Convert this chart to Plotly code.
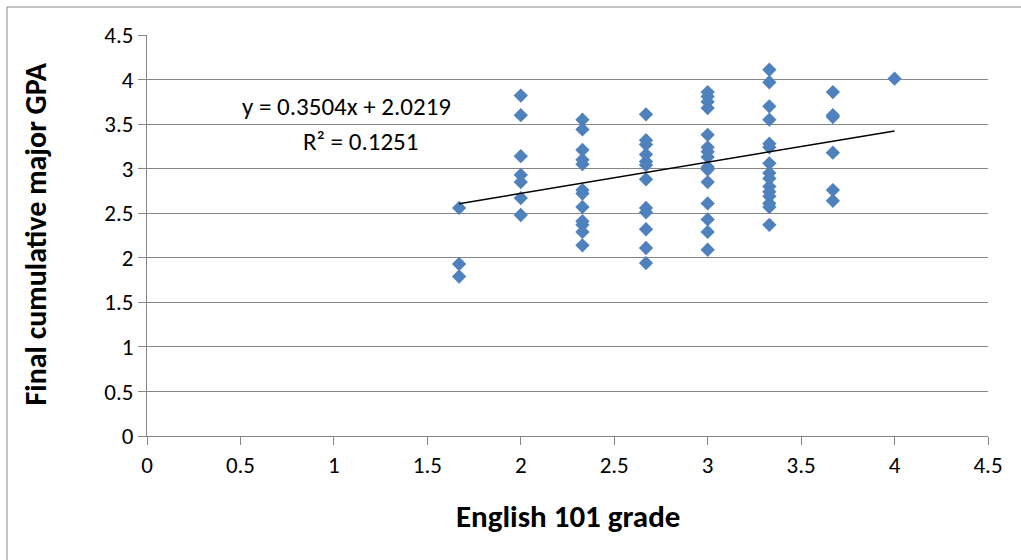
import plotly.graph_objects as go

# English 101 grade (x) and final cumulative major GPA (y)
grade_167 = [2.56, 1.93, 1.79]
grade_200 = [3.82, 3.60, 3.14, 2.93, 2.85, 2.67, 2.48]
grade_233 = [3.55, 3.44, 3.21, 3.10, 3.05, 2.76, 2.72, 2.57, 2.41, 2.37, 2.29, 2.14]
grade_267 = [3.61, 3.32, 3.27, 3.16, 3.08, 3.04, 2.88, 2.56, 2.51, 2.32, 2.11, 1.94]
grade_300 = [3.86, 3.81, 3.75, 3.68, 3.38, 3.24, 3.19, 3.13, 3.02, 2.99, 2.85, 2.61, 2.43, 2.29, 2.09]
grade_333 = [4.11, 3.97, 3.70, 3.55, 3.28, 3.24, 3.06, 2.95, 2.89, 2.80, 2.74, 2.69, 2.61, 2.57, 2.37]
grade_367 = [3.86, 3.60, 3.58, 3.18, 2.76, 2.64]
grade_400 = [4.01]

grade_levels = [1.67, 2.0, 2.33, 2.67, 3.0, 3.33, 3.67, 4.0]
gpa_groups = [grade_167, grade_200, grade_233, grade_267, grade_300, grade_333, grade_367, grade_400]

x_vals, y_vals = [], []
for g, ys in zip(grade_levels, gpa_groups):
    x_vals += [g] * len(ys)
    y_vals += ys

slope = 0.3504
intercept = 2.0219
r2 = 0.1251
trend_x = [min(x_vals), max(x_vals)]
trend_y = [slope * v + intercept for v in trend_x]

tick_vals = [0, 0.5, 1, 1.5, 2, 2.5, 3, 3.5, 4, 4.5]
tick_text = ["0", "0.5", "1", "1.5", "2", "2.5", "3", "3.5", "4", "4.5"]

FONT = "Carlito, Calibri, Lato, sans-serif"

fig = go.Figure()
fig.add_trace(go.Scatter(
    x=x_vals, y=y_vals, mode="markers",
    marker=dict(symbol="diamond", size=11, color="#4F81BD", line=dict(width=0)),
    showlegend=False, cliponaxis=False,
))
fig.add_trace(go.Scatter(
    x=trend_x, y=trend_y, mode="lines",
    line=dict(color="black", width=1.5), showlegend=False,
))

axis_common = dict(
    range=[0, 4.5], tickvals=tick_vals, ticktext=tick_text,
    showline=True, linecolor="#868686", linewidth=1,
    ticks="outside", ticklen=8, tickcolor="#868686",
    tickfont=dict(family=FONT, size=23, color="black"),
    zeroline=False, fixedrange=True,
)
fig.update_xaxes(**axis_common, showgrid=False)
fig.update_yaxes(**axis_common, showgrid=True, gridcolor="#868686", gridwidth=1)

fig.update_layout(
    width=1021, height=560,
    margin=dict(l=147, r=33, t=35, b=124),
    plot_bgcolor="white", paper_bgcolor="white",
    font=dict(family=FONT, color="black"),
    annotations=[
        dict(text="English 101 grade", xref="paper", yref="paper", x=0.5, y=-0.1995,
             showarrow=False, font=dict(family=FONT, size=31, color="black", weight="bold"),
             xanchor="center", yanchor="middle"),
        dict(text="Final cumulative major GPA", xref="paper", yref="paper", x=-0.132, y=0.505,
             textangle=-90, showarrow=False,
             font=dict(family=FONT, size=30, color="black", weight="bold"),
             xanchor="center", yanchor="middle"),
        dict(text=f"y = {slope}x + {intercept}", x=1.065, y=3.70, showarrow=False,
             font=dict(family=FONT, size=25, color="black"), xanchor="center", yanchor="middle"),
        dict(text=f"R² = {r2}", x=1.14, y=3.31, showarrow=False,
             font=dict(family=FONT, size=25, color="black"), xanchor="center", yanchor="middle"),
    ],
    shapes=[
        dict(type="rect", xref="paper", yref="paper", x0=-0.1665, y0=-0.5, x1=1.2, y1=1.0698,
             line=dict(color="#868686", width=1), fillcolor="rgba(0,0,0,0)", layer="below"),
    ],
)

fig.write_html(
    "out.html",
    config={"displayModeBar": False},
    post_script="document.body.style.margin='0';document.body.style.padding='0';",
)
